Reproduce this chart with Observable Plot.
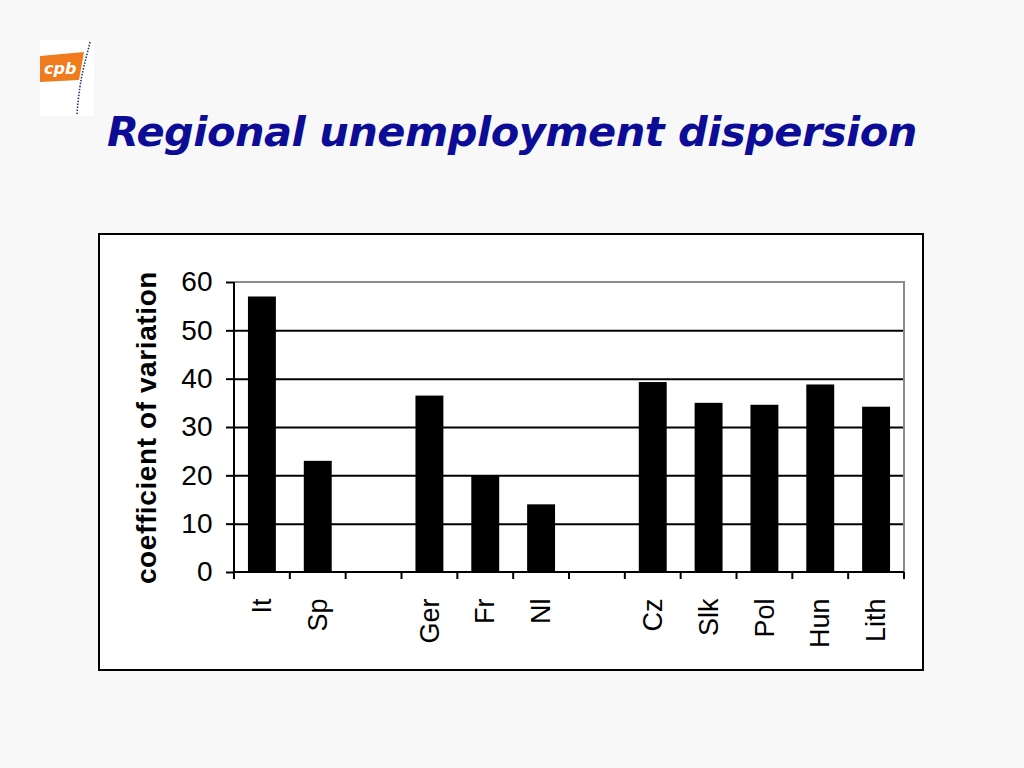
<!DOCTYPE html>
<html>
<head>
<meta charset="utf-8">
<script src="https://cdn.jsdelivr.net/npm/d3@7"></script>
<script src="https://cdn.jsdelivr.net/npm/@observablehq/plot@0.6"></script>
<style>
  html, body { margin: 0; padding: 0; }
  body { width: 1024px; height: 768px; background: #f8f8f8; position: relative; overflow: hidden; font-family: "Liberation Sans", Arial, sans-serif; }
  #logo { position: absolute; left: 40px; top: 40px; width: 54px; height: 76px; background: #fff; }
  #title { position: absolute; left: 0; width: 1024px; top: 107px; text-align: center; font-family: "DejaVu Sans", Verdana, sans-serif; font-weight: bold; font-style: italic; font-size: 41.5px; color: #0c0c96; letter-spacing: -0.5px; }
  #box { position: absolute; left: 98px; top: 233px; width: 826px; height: 438px; background: #fff; box-sizing: border-box; border: 2px solid #000; }
  #chart { position: absolute; left: 98px; top: 233px; }
</style>
</head>
<body>
<div id="logo">
  <svg width="54" height="76" viewBox="0 0 54 76">
    <polygon points="0,16 44,12 39,40 0,42" fill="#f07a1e"/>
    <text x="4" y="34" font-family="DejaVu Sans, sans-serif" font-style="italic" font-weight="bold" font-size="16" fill="#fff">cpb</text>
    <path d="M50,2 C46,20 40,34 37,74" fill="none" stroke="#1b2a6b" stroke-width="1.5" stroke-dasharray="1.5 1.5"/>
  </svg>
</div>
<div id="title">Regional unemployment dispersion</div>
<div id="box"></div>
<div id="chart"></div>
<script>
const categories = ["It", "Sp", "gap1", "Ger", "Fr", "Nl", "gap2", "Cz", "Slk", "Pol", "Hun", "Lith"];
const labels = ["It", "Sp", "", "Ger", "Fr", "Nl", "", "Cz", "Slk", "Pol", "Hun", "Lith"];
const barCountries = ["It", "Sp", "Ger", "Fr", "Nl", "Cz", "Slk", "Pol", "Hun", "Lith"];
const values = [57, 23, 36.5, 20, 14, 39.3, 35, 34.6, 38.8, 34.2];
const yTicks = [0, 10, 20, 30, 40, 50, 60];
const yLabel = "coefficient of variation";

const data = barCountries.map((c, i) => ({country: c, value: values[i]}));
const labelOf = new Map(categories.map((c, i) => [c, labels[i]]));

const axisLines = (index, scales, values, dims) => {
  const g = d3.create("svg:g");
  const x0 = dims.marginLeft;
  const x1 = dims.width - dims.marginRight;
  const yb = dims.height - dims.marginBottom;
  const yt = dims.marginTop;
  g.append("path").attr("d", `M${x0},${yt}H${x1}V${yb}`).attr("fill", "none").attr("stroke", "#8c8c8c").attr("stroke-width", 2);
  g.append("line").attr("x1", x0).attr("x2", x0).attr("y1", yt).attr("y2", yb).attr("stroke", "#000").attr("stroke-width", 2);
  g.append("line").attr("x1", x0).attr("x2", x1).attr("y1", yb).attr("y2", yb).attr("stroke", "#000").attr("stroke-width", 2);
  const step = scales.x.step ? scales.x.step() : scales.x.bandwidth();
  const bounds = categories.map(c => scales.x(c) - (step - scales.x.bandwidth()) / 2);
  bounds.push(x1);
  for (const b of bounds) {
    g.append("line").attr("x1", b).attr("x2", b).attr("y1", yb).attr("y2", yb + 7).attr("stroke", "#000").attr("stroke-width", 2);
  }
  return g.node();
};

const chart = Plot.plot({
  width: 826,
  height: 438,
  marginLeft: 136,
  marginRight: 20,
  marginTop: 49,
  marginBottom: 99,
  style: { fontFamily: "Liberation Sans, Arial, sans-serif", background: "transparent", overflow: "visible" },
  x: { domain: categories, paddingInner: 0.5, paddingOuter: 0.25, align: 0.5, round: false },
  y: { domain: [0, 60] },
  marks: [
    Plot.gridY([10, 20, 30, 40, 50], { stroke: "#000", strokeOpacity: 1, strokeWidth: 2 }),
    Plot.barY(data, { x: "country", y: "value", fill: "#000" }),
    axisLines,
    Plot.axisY({
      ticks: yTicks, tickSize: 8, tickPadding: 14, strokeWidth: 2, fontSize: 28,
      label: yLabel, labelAnchor: "center", labelArrow: "none", labelOffset: 98
    }),
    Plot.axisX({
      tickSize: 0, tickPadding: 26, tickRotate: -90, fontSize: 27,
      tickFormat: d => labelOf.get(d), label: null
    })
  ]
});
document.getElementById("chart").appendChild(chart);
chart.querySelectorAll("g[aria-label='y-axis label'] text").forEach(t => {
  t.style.fontSize = "28px";
  t.style.fontWeight = "bold";
  t.style.letterSpacing = "0.6px";
});
</script>
</body>
</html>
